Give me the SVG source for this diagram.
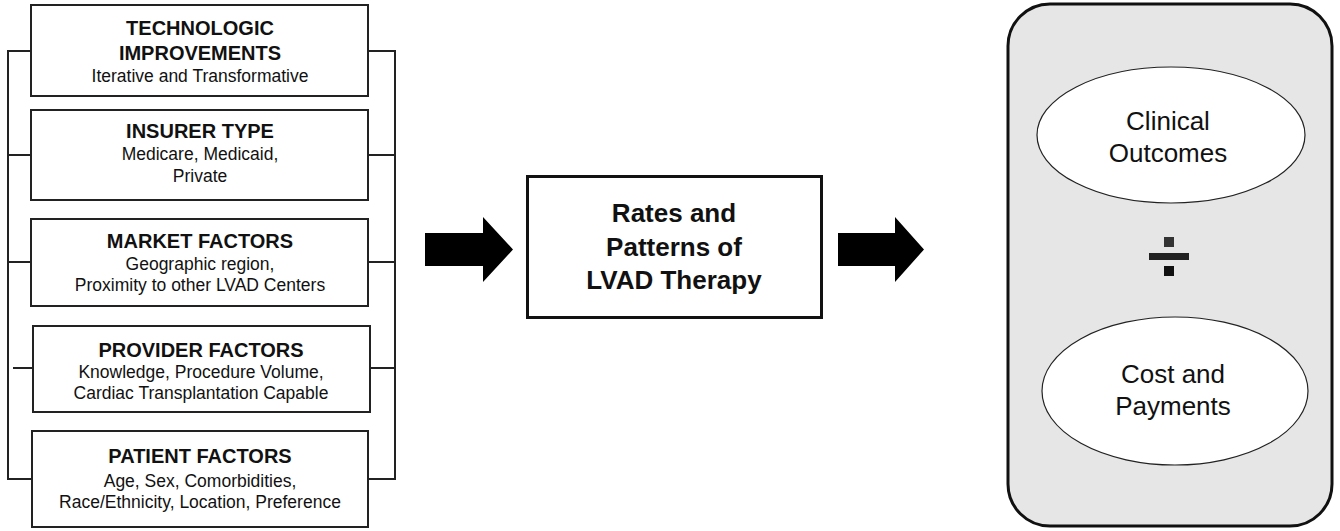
<svg xmlns="http://www.w3.org/2000/svg" width="1340" height="531" viewBox="0 0 1340 531">
<style>
.box{fill:#fff;stroke:#222;stroke-width:2}
.ln{fill:none;stroke:#222;stroke-width:2}
.t{font-family:"Liberation Sans",Arial,sans-serif;font-weight:bold;font-size:20px;fill:#111;text-anchor:middle}
.s{font-family:"Liberation Sans",Arial,sans-serif;font-size:17.5px;fill:#111;text-anchor:middle}
.big{font-family:"Liberation Sans",Arial,sans-serif;font-weight:bold;font-size:26px;fill:#111;text-anchor:middle}
.ell{font-family:"Liberation Sans",Arial,sans-serif;font-size:26px;fill:#111;text-anchor:middle}
</style>
<rect width="1340" height="531" fill="#fff"/>
<g id="connectors">
<path class="ln" d="M31 51H8V479H32M368 51H395V479H368M8 155H31M368 155H395M8 262H31M368 262H395M13 368H33M370 368H395"/>
<polygon points="425,233 483,233 483,217 513,249.5 483,282 483,266 425,266" fill="#000"/>
<polygon points="838,233 895,233 895,217 924,249.5 895,282 895,266 838,266" fill="#000"/>
</g>
<g id="tech">
<rect class="box" x="31" y="5" width="337" height="91"/>
<text class="t" x="200" y="35">TECHNOLOGIC</text>
<text class="t" x="200" y="60">IMPROVEMENTS</text>
<text class="s" x="200" y="82">Iterative and Transformative</text>
</g>
<g id="insurer">
<rect class="box" x="31" y="110" width="337" height="90"/>
<text class="t" x="200" y="138">INSURER TYPE</text>
<text class="s" x="200" y="160">Medicare, Medicaid,</text>
<text class="s" x="200" y="182">Private</text>
</g>
<g id="market">
<rect class="box" x="31" y="219" width="337" height="87"/>
<text class="t" x="200" y="248">MARKET FACTORS</text>
<text class="s" x="200" y="270">Geographic region,</text>
<text class="s" x="200" y="291">Proximity to other LVAD Centers</text>
</g>
<g id="provider">
<rect class="box" x="33" y="326" width="337" height="86"/>
<text class="t" x="201" y="357">PROVIDER FACTORS</text>
<text class="s" x="201" y="378">Knowledge, Procedure Volume,</text>
<text class="s" x="201" y="399">Cardiac Transplantation Capable</text>
</g>
<g id="patient">
<rect class="box" x="32" y="431" width="336" height="96"/>
<text class="t" x="200" y="463">PATIENT FACTORS</text>
<text class="s" x="200" y="487">Age, Sex, Comorbidities,</text>
<text class="s" x="200" y="508">Race/Ethnicity, Location, Preference</text>
</g>
<g id="rates">
<rect x="527.5" y="176.5" width="294" height="141" fill="#fff" stroke="#111" stroke-width="3"/>
<text class="big" x="674" y="222">Rates and</text>
<text class="big" x="674" y="256">Patterns of</text>
<text class="big" x="674" y="289">LVAD Therapy</text>
</g>
<g id="outcomes">
<rect x="1008" y="4" width="324" height="522" rx="42" ry="42" fill="#e6e6e6" stroke="#111" stroke-width="3"/>
<g id="clinical">
<ellipse cx="1171" cy="135" rx="134" ry="68" fill="#fff" stroke="#222" stroke-width="1.2"/>
<text class="ell" x="1168" y="130">Clinical</text>
<text class="ell" x="1168" y="162">Outcomes</text>
</g>
<g id="divide">
<rect x="1164" y="237" width="10" height="10" fill="#333"/>
<rect x="1149" y="253" width="40" height="7" fill="#222"/>
<rect x="1164" y="266" width="10" height="10" fill="#111"/>
</g>
<g id="cost">
<ellipse cx="1175" cy="391" rx="133" ry="74" fill="#fff" stroke="#222" stroke-width="1.2"/>
<text class="ell" x="1173" y="383">Cost and</text>
<text class="ell" x="1173" y="415">Payments</text>
</g>
</g>
</svg>
